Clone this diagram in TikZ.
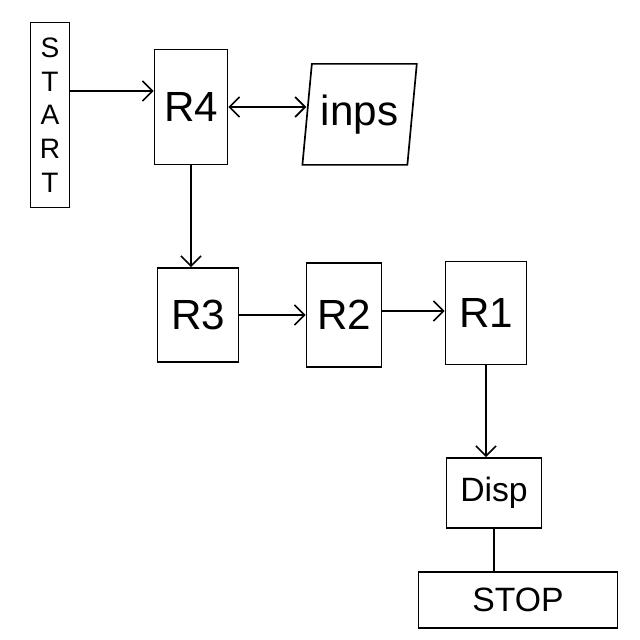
\documentclass[tikz,border=0pt]{standalone}
\usepackage{fontspec}
\setmainfont{Liberation Sans}
\usetikzlibrary{shapes.geometric,arrows.meta,positioning}

\begin{document}
\begin{tikzpicture}[
    box/.style={rectangle, draw, line width=1.2pt, inner sep=0pt, font=\fontsize{30}{34}\selectfont},
    io/.style={trapezium, trapezium left angle=79, trapezium right angle=101, trapezium stretches=true, draw, line width=1.2pt, inner sep=0pt, font=\fontsize{30}{34}\selectfont},
    term/.style={rectangle, draw, line width=1.2pt, inner sep=0pt, font=\fontsize{24}{28}\selectfont},
    >={Straight Barb[length=2.5mm, width=5mm]}
]
    \useasboundingbox (0,0) rectangle (16,16);

    % Start / stop
    \node[term, minimum width=0.975cm, minimum height=4.625cm, font=\fontsize{20}{24}\selectfont, align=center] (start) at (1.25, 13.125) {S\\T\\A\\R\\T};
    \node[term, minimum width=4.975cm, minimum height=1.4cm] (stop) at (12.95, 1.0) {STOP};

    % Routines
    \node[box, minimum width=1.825cm, minimum height=2.875cm] (r4) at (4.775, 13.325) {R4};
    \node[io, minimum width=2.875cm, minimum height=2.525cm] (inps) at (8.99, 13.14) {inps};
    \node[box, minimum width=2.025cm, minimum height=2.35cm] (r3) at (4.95, 8.125) {R3};
    \node[box, minimum width=1.875cm, minimum height=2.6cm] (r2) at (8.6, 8.125) {R2};
    \node[box, minimum width=2.025cm, minimum height=2.575cm] (r1) at (12.15, 8.175) {R1};
    \node[box, minimum width=2.375cm, minimum height=1.75cm, font=\fontsize{24}{28}\selectfont] (disp) at (12.35, 3.675) {Disp};

    % Links
    \draw[->, line width=1.2pt] ([yshift=0.6cm]start.east) -- ([yshift=0.6cm]start.east -| r4.west);
    \draw[<->, line width=1.2pt] (r4.east) -- (r4.east -| inps.west);
    \draw[->, line width=1.2pt] (r4.south) -- (r4.south |- r3.north);
    \draw[->, line width=1.2pt] (r3.east) -- (r2.west);
    \draw[->, line width=1.2pt] ([yshift=0.1cm]r2.east) -- ([yshift=0.1cm]r2.east -| r1.west);
    \draw[->, line width=1.2pt] (r1.south) -- (r1.south |- disp.north);
    \draw[line width=1.2pt] (disp.south) -- (disp.south |- stop.north);
\end{tikzpicture}
\end{document}
